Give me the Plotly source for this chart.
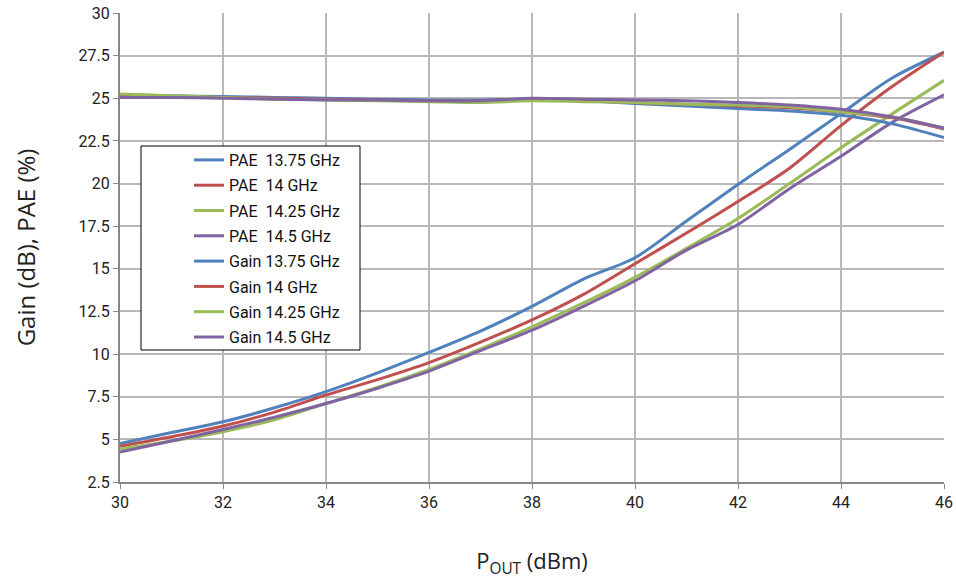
import plotly.graph_objects as go

pout = [30, 31, 32, 33, 34, 35, 36, 37, 38, 39, 40, 41, 42, 43, 44, 45, 46]

pae_1375 = [4.76, 5.4, 6.03, 6.85, 7.8, 8.9, 10.1, 11.35, 12.8, 14.4, 15.65, 17.8, 19.95, 22.0, 24.1, 26.2, 27.7]
pae_14 = [4.6, 5.15, 5.78, 6.6, 7.6, 8.5, 9.5, 10.7, 12.0, 13.5, 15.3, 17.1, 18.95, 20.9, 23.4, 25.7, 27.7]
pae_1425 = [4.43, 4.9, 5.45, 6.15, 7.1, 8.05, 9.1, 10.3, 11.6, 13.0, 14.5, 16.2, 17.95, 20.0, 22.1, 24.1, 26.05]
pae_145 = [4.25, 4.9, 5.58, 6.3, 7.1, 8.0, 9.0, 10.2, 11.4, 12.8, 14.3, 16.1, 17.6, 19.7, 21.6, 23.6, 25.2]

gain_1375 = [25.2, 25.15, 25.1, 25.05, 25.0, 24.95, 24.9, 24.9, 24.95, 24.85, 24.7, 24.55, 24.4, 24.25, 24.0, 23.5, 22.7]
gain_14 = [25.1, 25.1, 25.05, 25.0, 24.95, 24.9, 24.85, 24.85, 24.95, 24.85, 24.75, 24.65, 24.55, 24.45, 24.2, 23.85, 23.2]
gain_1425 = [25.25, 25.15, 25.05, 24.95, 24.9, 24.85, 24.8, 24.75, 24.85, 24.8, 24.75, 24.65, 24.6, 24.5, 24.2, 23.9, 23.25]
gain_145 = [25.05, 25.05, 25.0, 24.95, 24.9, 24.9, 24.85, 24.85, 25.0, 24.95, 24.9, 24.85, 24.75, 24.6, 24.35, 23.9, 23.25]

names = ["PAE\u00a0 13.75 GHz", "PAE\u00a0 14 GHz", "PAE\u00a0 14.25 GHz", "PAE\u00a0 14.5 GHz",
         "Gain 13.75 GHz", "Gain 14 GHz", "Gain 14.25 GHz", "Gain 14.5 GHz"]
colors = ["#4F81BD", "#C0504D", "#9BBB59", "#8064A2"]

series = [pae_1375, pae_14, pae_1425, pae_145, gain_1375, gain_14, gain_1425, gain_145]

fig = go.Figure()
for i, (nm, ys) in enumerate(zip(names, series)):
    fig.add_trace(go.Scatter(
        x=pout, y=ys, name=nm, mode="lines",
        line=dict(color=colors[i % 4], width=3, shape="spline", smoothing=0.8),
        legendgroup="g%d" % i,
    ))

W, H = 956, 579
L, R, T, B = 120, 944, 13, 482
PW, PH = R - L, B - T

def px(x):
    return (x - L) / PW

def py(y):
    return (B - y) / PH

fig.add_shape(type="rect", xref="paper", yref="paper",
              x0=px(141), x1=px(360), y0=py(350), y1=py(146),
              line=dict(color="black", width=1), fillcolor="white", layer="above")

fig.update_layout(
    width=W, height=H,
    margin=dict(l=L, r=W - R, t=T, b=H - B, autoexpand=False),
    paper_bgcolor="white", plot_bgcolor="white",
    font=dict(family="Roboto", size=16, color="#222"),
    showlegend=True,
    legend=dict(x=px(189), y=py(143), xanchor="left", yanchor="top",
                bgcolor="rgba(0,0,0,0)", borderwidth=0, tracegroupgap=1.5,
                itemwidth=30, font=dict(family="Roboto", size=16, color="#111")),
    xaxis=dict(range=[30, 46], dtick=2, tick0=30, showgrid=True, gridcolor="#b8b8b8", gridwidth=1.5,
               showline=True, linecolor="#888", linewidth=2, ticks="outside", ticklen=5,
               tickcolor="#888", tickfont=dict(family="Roboto", size=16, color="#222"),
               automargin=False, ticklabeloverflow="allow",
               title=dict(text="P<sub>OUT</sub> (dBm)", font=dict(family="Open Sans", size=22, color="#222"),
                          standoff=52)),
    yaxis=dict(range=[2.5, 30], dtick=2.5, tick0=2.5, showgrid=True, gridcolor="#b8b8b8", gridwidth=1.5,
               showline=True, linecolor="#888", linewidth=2, ticks="outside", ticklen=5,
               tickcolor="#888", tickfont=dict(family="Roboto", size=16, color="#222"),
               automargin=False, ticklabeloverflow="allow",
               title=dict(text="Gain (dB), PAE (%)", font=dict(family="Open Sans", size=24, color="#222"),
                          standoff=36)),
)

fig.write_html("out.html", config={"displayModeBar": False},
               post_script="document.body.style.margin='0';")
